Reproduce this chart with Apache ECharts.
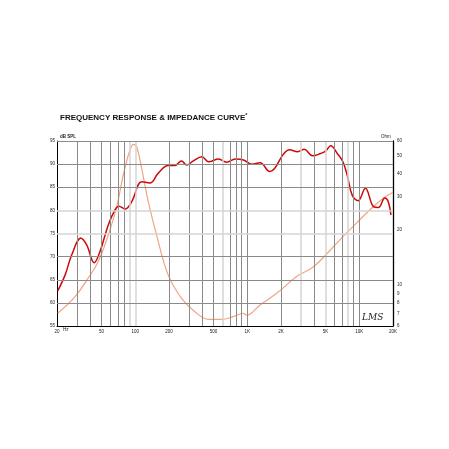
<!DOCTYPE html>
<html><head><meta charset="utf-8">
<script src="https://cdn.jsdelivr.net/npm/echarts@6/dist/echarts.min.js"></script>
<style>html,body{margin:0;padding:0;background:#fff}#c{width:449px;height:449px}</style>
</head><body><div id="c"></div>
<script>
// Frequency (Hz) and SPL (dB) of the response curve
const splFreq = [20.3,23.6,27.1,32.8,36.9,43.0,48.4,57.3,65.9,71.5,81.1,93.0,114.5,135,160,197,226,259,287,330,393,453,554,654,781,923,1099,1300,1591,1760,2080,2380,2820,3230,3820,4520,5010,5560,6360,7140,7800,8640,9760,11330,13390,14800,16930,18110,19150];
const splDb   = [62.6,66.0,70.4,74.0,72.5,68.7,71.1,76.8,80.1,80.9,80.3,81.9,86.2,85.9,88.0,89.7,89.7,90.7,89.8,90.7,91.6,90.5,91.1,90.4,91.1,90.9,90.0,90.3,88.4,89.1,92.0,93.1,92.7,93.2,91.8,92.3,92.8,94.0,92.3,90.5,87.6,83.3,82.1,84.8,80.8,80.6,82.7,81.9,79.0];
// Frequency (Hz) and impedance (Ohm)
const impFreq = [20.3,29.0,38.0,46.7,57.4,68.3,78.1,89.7,96.1,102.8,114,130.6,155,197,259,341,449,589,748,920,986,1300,1830,2760,3880,5490,7180,9450,12460,16360,19900];
const impOhm  = [7.03,8.64,10.9,13.4,18.6,26.5,39.3,53.8,57.6,55.9,42.7,28.2,18.6,11.3,8.47,7.17,6.52,6.52,6.74,7.03,6.86,7.79,9.01,11.1,12.5,15.4,18.3,21.6,25.5,29.4,31.6];
// Axis ticks
const freqTicks = [20,50,100,200,500,1000,2000,5000,10000,20000];
const freqTickLabels = ['20','50','100','200','500','1K','2K','5K','10K','20K'];
const dbTicks = [55,60,65,70,75,80,85,90,95];
const ohmTicks = [6,7,8,9,10,20,30,40,50,60];
const freqGrid = [30,40,50,60,70,80,90,100,200,300,400,500,600,700,800,900,1000,2000,3000,4000,5000,6000,7000,8000,9000,10000];
const lightFreqGrid = [90,100,600,3000,5000,8000];
const lightDbGrid = [75,80];

const L = Math.log10;
const chart = echarts.init(document.getElementById('c'), null, {renderer:'canvas'});
const dark = '#8a8a8a', light = '#d4d4d4';
const vLines = freqGrid.map(f => ({xAxis: L(f), lineStyle:{type:'solid', color: lightFreqGrid.includes(f) ? light : dark, width: lightFreqGrid.includes(f)?1.5:1}}));
const hLines = dbTicks.slice(1).map(d => ({yAxis: d, lineStyle:{type:'solid', color: lightDbGrid.includes(d) ? light : dark, width: lightDbGrid.includes(d)?1.5:1}}));
const font = 'Liberation Sans, Arial, sans-serif';
const findLbl = (v, ticks, labels) => { let bi=0,bd=1e9; ticks.forEach((t,i)=>{const d=Math.abs(L(t)-v); if(d<bd){bd=d;bi=i;}}); return labels[bi]; };

chart.setOption({
  animation:false,
  backgroundColor:'#fff',
  title:{text:'FREQUENCY RESPONSE & IMPEDANCE CURVE{s|*}', left:55, top:107,
    textStyle:{fontFamily:font, fontSize:8, fontWeight:'bold', color:'#111', rich:{s:{fontSize:5.5, verticalAlign:'top', padding:[0,0,6,0], fontWeight:'bold'}}}},
  grid:{left:57, right:56, top:141, bottom:123},
  xAxis:{type:'value', min:L(20), max:L(20000),
    axisLine:{show:true, lineStyle:{color:'#000', width:1}},
    axisTick:{show:false}, splitLine:{show:false},
    axisLabel:{customValues:freqTicks.map(L), fontSize:4.5, fontFamily:font, color:'#222', margin:3,
      formatter:v=>findLbl(v,freqTicks,freqTickLabels)}},
  yAxis:[
    {type:'value', min:55, max:95, interval:5, position:'left',
     axisLine:{show:true, lineStyle:{color:'#000', width:1}}, axisTick:{show:false}, splitLine:{show:false},
     axisLabel:{fontSize:4.5, fontFamily:font, color:'#222', margin:2}},
    {type:'value', min:L(6), max:L(60), position:'right',
     axisLine:{show:true, lineStyle:{color:'#000', width:1.3}}, axisTick:{show:false}, splitLine:{show:false},
     axisLabel:{customValues:ohmTicks.map(L), fontSize:4.5, fontFamily:font, color:'#222', margin:4,
       formatter:v=>findLbl(v,ohmTicks,ohmTicks.map(String))}}
  ],
  graphic:[
    {type:'text', left:60, top:134, style:{text:'dB SPL', font:'bold 4.5px '+font, fill:'#222'}},
    {type:'text', left:381, top:134, style:{text:'Ohm', font:'4.5px '+font, fill:'#222'}},
    {type:'text', left:63, top:327, style:{text:'Hz', font:'4.5px '+font, fill:'#222'}},
    {type:'text', left:362, top:313, style:{text:'LMS', font:'italic 9px "DejaVu Serif", serif', fill:'#222'}}
  ],
  series:[
    {type:'line', data:[], silent:true, markLine:{silent:true, symbol:'none', label:{show:false}, animation:false,
      data: vLines.concat(hLines)}},
    {type:'line', yAxisIndex:1, smooth:0.4, showSymbol:false, z:3,
      data: impFreq.map((f,i)=>[L(f), L(impOhm[i])]), lineStyle:{color:'#f0a482', width:1.2}},
    {type:'line', yAxisIndex:0, smooth:0.4, showSymbol:false, z:4,
      data: splFreq.map((f,i)=>[L(f), splDb[i]]), lineStyle:{color:'#cc0a0a', width:1.5}}
  ]
});
</script></body></html>
